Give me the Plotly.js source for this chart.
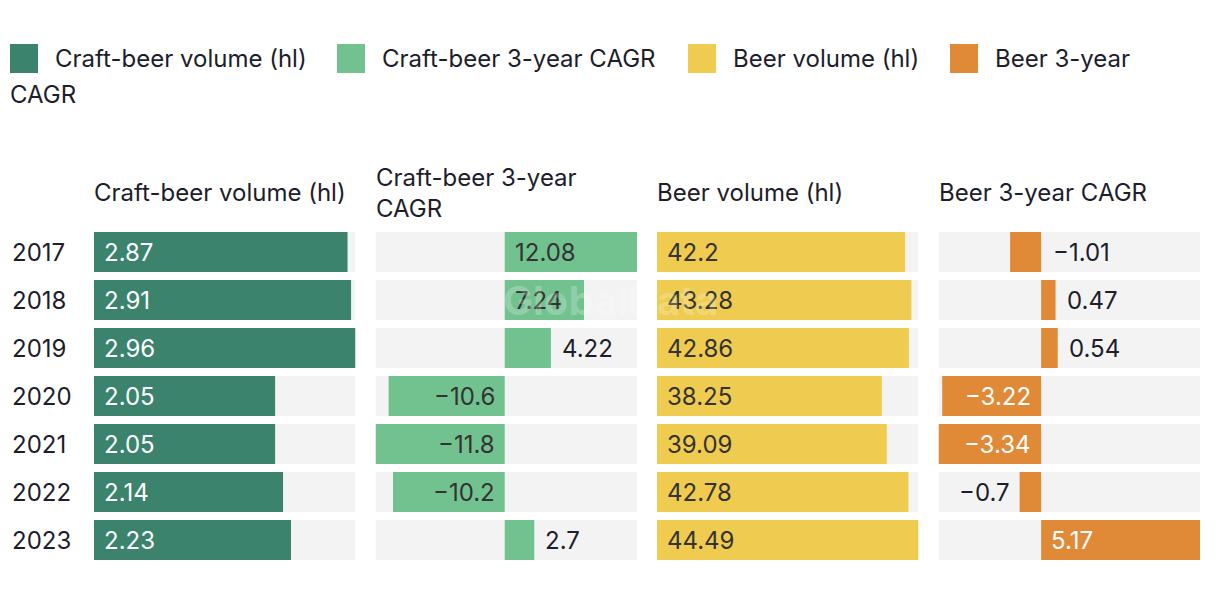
<!DOCTYPE html>
<html>
<head>
<meta charset="utf-8">
<script src="https://cdn.plot.ly/plotly-3.0.1.min.js"></script>
<style>html,body{margin:0;padding:0;background:#fff;}#chart{width:1220px;height:604px;}</style>
</head>
<body>
<div id="chart"></div>
<script>
// ---- data ----
const years = ['2017', '2018', '2019', '2020', '2021', '2022', '2023'];
const craftVolume = [2.87, 2.91, 2.96, 2.05, 2.05, 2.14, 2.23];
const craftCagr = [12.08, 7.24, 4.22, -10.6, -11.8, -10.2, 2.7];
const beerVolume = [42.2, 43.28, 42.86, 38.25, 39.09, 42.78, 44.49];
const beerCagr = [-1.01, 0.47, 0.54, -3.22, -3.34, -0.7, 5.17];
const seriesNames = ['Craft-beer volume (hl)', 'Craft-beer 3-year CAGR', 'Beer volume (hl)', 'Beer 3-year CAGR'];
const headerTexts = ['Craft-beer volume (hl)', 'Craft-beer 3-year<br>CAGR', 'Beer volume (hl)', 'Beer 3-year CAGR'];
const legendTexts = ['Craft-beer volume (hl)', 'Craft-beer 3-year CAGR', 'Beer volume (hl)', 'Beer 3-year'];
const legendWrapText = 'CAGR';
const rightSideLabelYears = ['2017']; // beer CAGR label shown right of zero

// ---- style ----
const colors = ['#3b836c', '#72c290', '#efcc4f', '#e08a38'];
const labelColors = ['#ffffff', '#333333', '#333333', '#ffffff'];
const outsideColor = '#1d1d2b';
const bgColor = '#f3f3f3';
const textColor = '#1d1d2b';
const FONT = 'Inter, Roboto, sans-serif';
const FS = 24;

const L = 94, R = 20, T = 228, B = 40, WIDTH = 1220, HEIGHT = 604;
const PW = WIDTH - L - R, PH = HEIGHT - T - B;
const px = x => (x - L) / PW;
const py = y => (T + PH - y) / PH;

const series = [craftVolume, craftCagr, beerVolume, beerCagr];
const panelW = (PW - 60) / 4;
const domains = [0, 1, 2, 3].map(i => [(i * (panelW + 20)) / PW, (i * (panelW + 20) + panelW) / PW]);

const fmt = v => String(v).replace('-', '\u2212');

const traces = [];
const annotations = [];
const shapes = [];
const baseAnn = {showarrow: false, borderpad: 0, borderwidth: 0};
const layout = {
  width: WIDTH, height: HEIGHT,
  margin: {l: L, r: R, t: T, b: B, pad: 0},
  paper_bgcolor: '#ffffff', plot_bgcolor: '#ffffff',
  font: {family: FONT, size: FS, color: textColor},
  barmode: 'overlay',
  bargap: 8 / 48,
  showlegend: false,
  yaxis: {
    type: 'category', categoryorder: 'array', categoryarray: years,
    range: [years.length - 0.5, -0.5], autorange: false,
    showgrid: false, zeroline: false, showline: false,
    ticks: '', showticklabels: false,
    fixedrange: true
  }
};

// year labels, left-aligned like the reference
years.forEach((yr, k) => {
  annotations.push(Object.assign({}, baseAnn, {
    xref: 'paper', yref: 'y', x: px(12), y: k, xanchor: 'left', yanchor: 'middle',
    text: yr, font: {family: FONT, size: FS, color: textColor}
  }));
});

series.forEach((vals, i) => {
  const ax = i === 0 ? 'x' : 'x' + (i + 1);
  const axKey = i === 0 ? 'xaxis' : 'xaxis' + (i + 1);
  const lo = Math.min(0, ...vals), hi = Math.max(0, ...vals);
  layout[axKey] = {
    domain: domains[i], range: [lo, hi], autorange: false, anchor: 'y',
    showgrid: false, zeroline: false, showline: false, showticklabels: false, ticks: '',
    fixedrange: true
  };
  // background bars spanning the panel
  traces.push({
    type: 'bar', orientation: 'h', xaxis: ax, yaxis: 'y',
    y: years, x: years.map(() => hi - lo), base: years.map(() => lo),
    marker: {color: bgColor}, hoverinfo: 'skip', showlegend: false
  });
  traces.push({
    type: 'bar', orientation: 'h', xaxis: ax, yaxis: 'y', name: seriesNames[i],
    y: years, x: vals, marker: {color: colors[i]}, showlegend: false
  });
  // header
  annotations.push(Object.assign({}, baseAnn, {
    xref: ax + ' domain', yref: 'paper', x: 0, y: py(193), xanchor: 'left', yanchor: 'middle',
    align: 'left', text: headerTexts[i],
    font: {family: FONT, size: FS, color: textColor}
  }));
  // value labels
  const unitPx = panelW / (hi - lo);
  vals.forEach((v, k) => {
    const txt = fmt(v);
    const need = txt.length * 12 + 22;
    const inside = Math.abs(v) * unitPx >= need;
    let a = Object.assign({}, baseAnn, {xref: ax, yref: 'y', y: k, text: txt, yanchor: 'middle',
             font: {family: FONT, size: FS, color: labelColors[i]}});
    if (inside) {
      a.x = 0;
      a.xanchor = v >= 0 ? 'left' : 'right';
      a.xshift = v >= 0 ? 10 : -10;
    } else if (i === 3 && rightSideLabelYears.includes(years[k])) {
      a.x = 0; a.xanchor = 'left'; a.xshift = 12;
      a.font.color = outsideColor;
    } else {
      a.x = v;
      a.xanchor = v >= 0 ? 'left' : 'right';
      a.xshift = v >= 0 ? 11 : -10;
      a.font.color = outsideColor;
    }
    annotations.push(a);
  });
});

// ---- manual legend ----
const legendSq = [10, 337, 688, 950];
legendSq.forEach((x0, i) => {
  shapes.push({type: 'rect', xref: 'paper', yref: 'paper', x0: px(x0), x1: px(x0 + 28),
               y0: py(73), y1: py(44), fillcolor: colors[i], line: {width: 0}});
  annotations.push(Object.assign({}, baseAnn, {xref: 'paper', yref: 'paper', x: px(x0 + 45), y: py(58),
                    xanchor: 'left', yanchor: 'middle',
                    text: legendTexts[i], font: {family: FONT, size: FS, color: textColor}}));
});
annotations.push(Object.assign({}, baseAnn, {xref: 'paper', yref: 'paper', x: px(10), y: py(94),
                  xanchor: 'left', yanchor: 'middle',
                  text: legendWrapText, font: {family: FONT, size: FS, color: textColor}}));
// faint watermark
annotations.push(Object.assign({}, baseAnn, {xref: 'paper', yref: 'paper', x: px(610), y: py(300),
                  xanchor: 'center', yanchor: 'middle',
                  text: '<b>GlobalData</b>', font: {family: FONT, size: 40, color: 'rgba(255,255,255,0.22)'}}));

layout.annotations = annotations;
layout.shapes = shapes;

Plotly.newPlot('chart', traces, layout, {displayModeBar: false, staticPlot: true});
</script>
</body>
</html>
